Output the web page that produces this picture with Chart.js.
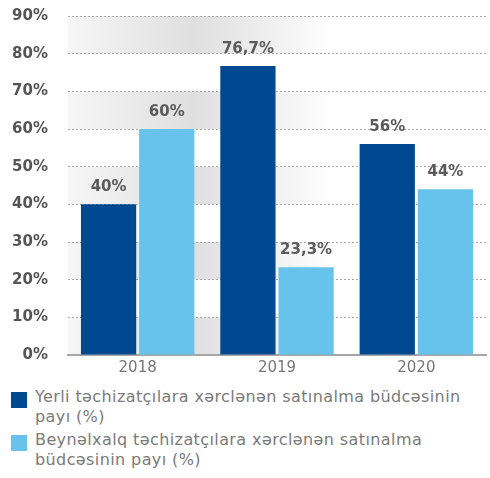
<!DOCTYPE html>
<html lang="az">
<head>
  <meta charset="UTF-8">
  <title>Satınalma büdcəsi</title>
  <script src="https://cdn.jsdelivr.net/npm/chart.js"></script>
  <style>
    body {
      margin: 0;
      background: #fff;
      font-family: "DejaVu Sans", sans-serif;
    }
    #wrap { width: 490px; height: 478px; position: relative; overflow: hidden; }
    canvas { display: block; position: absolute; left: 0; top: -13px; }
    .legend { position: absolute; left: 11px; top: 387px; width: 468px; }
    .item { position: relative; padding-left: 24px; color: #7a7a7a; font-size: 16px; letter-spacing: 0.4px; line-height: 20px; margin-bottom: 3px; }
    .box { position: absolute; left: 0; top: 5px; width: 16px; height: 16px; }
  </style>
</head>
<body>
  <div id="wrap">
    <canvas id="budgetChart" width="490" height="397"></canvas>
    <div class="legend" id="legend"></div>
  </div>

  <script>
    const years = ['2018', '2019', '2020'];
    const localShare = [40, 76.7, 56];
    const foreignShare = [60, 23.3, 44];
    const seriesNames = [
      'Yerli təchizatçılara xərclənən satınalma büdcəsinin payı (%)',
      'Beynəlxalq təchizatçılara xərclənən satınalma büdcəsinin payı (%)'
    ];
    const colors = ['#004990', '#67c3ec'];
    const yTicks = [0, 10, 20, 30, 40, 50, 60, 70, 80, 90];

    // grey gradient bands behind every other 10% step
    const bandPlugin = {
      id: 'bands',
      beforeDraw(chart) {
        const { ctx, chartArea: a, scales: { y } } = chart;
        const g = ctx.createLinearGradient(a.left, 0, a.right, 0);
        g.addColorStop(0, '#f6f6f6');
        g.addColorStop(0.3, '#dfdfdf');
        g.addColorStop(0.45, '#ececec');
        g.addColorStop(0.63, '#ffffff');
        g.addColorStop(1, '#ffffff');
        ctx.save();
        ctx.fillStyle = g;
        for (let v = 0; v < 90; v += 20) {
          const top = y.getPixelForValue(v + 10);
          const bottom = y.getPixelForValue(v);
          ctx.fillRect(a.left, top, a.right - a.left, bottom - top);
        }
        ctx.restore();
      }
    };

    const valueLabels = {
      id: 'valueLabels',
      afterDatasetsDraw(chart) {
        const ctx = chart.ctx;
        ctx.save();
        ctx.font = 'bold 15px "DejaVu Sans", sans-serif';
        ctx.fillStyle = '#5a5a5a';
        ctx.textAlign = 'center';
        ctx.textBaseline = 'middle';
        chart.data.datasets.forEach((ds, i) => {
          chart.getDatasetMeta(i).data.forEach((bar, j) => {
            const txt = String(ds.data[j]).replace('.', ',') + '%';
            ctx.fillText(txt, bar.x, bar.y - 17);
          });
        });
        ctx.restore();
      }
    };

    const ctx = document.getElementById('budgetChart').getContext('2d');
    new Chart(ctx, {
      type: 'bar',
      data: {
        labels: years,
        datasets: [
          { label: seriesNames[0], data: localShare, backgroundColor: colors[0] },
          { label: seriesNames[1], data: foreignShare, backgroundColor: colors[1] }
        ]
      },
      options: {
        responsive: false,
        animation: false,
        layout: { padding: { top: 0, right: 4, left: 0, bottom: 0 } },
        categoryPercentage: 0.835,
        barPercentage: 0.95,
        scales: {
          x: {
            grid: { display: false, drawTicks: false },
            border: { color: '#a6a6a6', width: 2 },
            ticks: { color: '#777', font: { size: 15, family: '"DejaVu Sans", sans-serif' }, padding: 4 }
          },
          y: {
            min: 0,
            max: 90,
            afterBuildTicks: axis => { axis.ticks = yTicks.map(v => ({ value: v })); },
            afterFit: axis => { axis.width = 68; },
            grid: { color: '#a8a8a8', drawTicks: false, lineWidth: 1 },
            border: { display: false, dash: [2, 2] },
            ticks: {
              color: '#555',
              padding: 20,
              font: { size: 15, weight: 'bold', family: '"DejaVu Sans", sans-serif' },
              callback: v => v + '%'
            }
          }
        },
        plugins: {
          legend: { display: false },
          tooltip: { enabled: false }
        }
      },
      plugins: [bandPlugin, valueLabels]
    });

    document.getElementById('legend').innerHTML = seriesNames.map((name, i) =>
      `<div class="item"><span class="box" style="background:${colors[i]}"></span>${name}</div>`
    ).join('');
  </script>
</body>
</html>
